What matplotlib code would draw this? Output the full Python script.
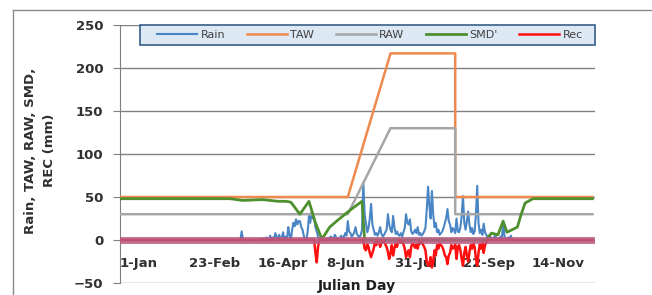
import numpy as np
import matplotlib
matplotlib.use("Agg")
import matplotlib.pyplot as plt
from matplotlib.lines import Line2D
from matplotlib.patches import Rectangle

# day of year (0 = 1-Jan, leap year)
tick_days = [0, 53, 106, 159, 212, 265, 318]
tick_labels = ["1-Jan", "23-Feb", "16-Apr", "8-Jun", "31-Jul", "22-Sep", "14-Nov"]
n_days = 366

# rain (mm): scattered spring showers, then the daily wet-season record
spring_rain_days = [94, 110, 113, 116, 118, 120, 121, 123, 125, 126, 128, 130, 131,
                    133, 134, 135, 136, 137, 138, 139, 140, 141, 142, 145, 146, 147,
                    148, 149, 150, 151, 152, 153, 156]
spring_rain_mm = [10, 2, 3, 5, 3, 8, 4, 6, 3, 9, 4, 15, 6,
                  12, 20, 16, 24, 18, 22, 22, 15, 12, 5, 10, 28, 20,
                  32, 25, 25, 15, 10, 4, 2]
season_start = 160
season_rain_mm = [2, 0, 3, 4, 0, 2, 6, 3, 0, 2, 3, 5, 0, 4, 8, 5, 22, 10, 8, 4,
                  6, 9, 15, 7, 5, 3, 6, 12, 67, 30, 20, 9, 14, 25, 42, 18, 12, 6, 8, 5,
                  9, 15, 7, 4, 6, 9, 12, 30, 18, 12, 9, 28, 15, 7, 10, 6, 5, 8, 4, 9,
                  14, 30, 20, 18, 24, 10, 7, 9, 12, 8, 15, 6, 8, 5, 7, 10, 14, 35, 62, 40,
                  25, 57, 30, 15, 20, 9, 12, 6, 8, 10, 14, 20, 25, 36, 22, 18, 9, 14, 12, 8,
                  25, 10, 9, 15, 28, 51, 20, 12, 22, 33, 18, 9, 14, 7, 10, 30, 63, 20, 8, 12,
                  6, 19, 9, 6, 3, 5, 4, 2, 0, 3, 6]
autumn_rain_days = [292, 294, 296, 297, 300, 302]
autumn_rain_mm = [2, 4, 22, 5, 3, 5]

# total / readily available water (breakpoints)
taw_days = [0, 176, 209, 259, 259, 365]
taw_mm = [50, 50, 217, 217, 50, 50]
raw_days = [0, 176, 209, 259, 259, 365]
raw_mm = [30, 30, 130, 130, 30, 30]

# soil moisture deficit (breakpoints)
smd_days = [0, 85, 95, 110, 122, 128, 132, 139, 146, 151, 156, 162, 169, 178,
            187, 189, 283, 287, 292, 296, 299, 303, 307, 310, 313, 319, 365]
smd_mm = [48, 48, 46, 47, 45, 45, 44, 30, 45, 20, 1, 15, 24, 35,
          45, 0, 0, 8, 6, 22, 9, 12, 15, 30, 43, 48, 48]

# recharge (negative, mm)
early_rec_days = [151, 152, 153]
early_rec_mm = [-15, -26, -8]
rec_start = 189
season_rec_mm = [-10, -12, -5, -8, -15, -20, -15, -10, -3, -6, 0, -2, -8, -3, 0, -2,
                 -5, -8, -14, -22, -15, -6, -18, -10, -4, -8, -2, 0, -3, -1, -5, -10,
                 -20, -15, -12, -20, -8, -4, -6, -9, -5, -10, -3, -4, -2, -5, -8, -12,
                 -25, -30, -28, -20, -32, -25, -12, -18, -6, -10, -4, -6, -8, -12, -18,
                 -20, -28, -18, -15, -6, -10, -9, -5, -22, -8, -6, -12, -22, -30, -15,
                 -8, -18, -25, -14, -6, -10, -4, -8, -22, -30, -15, -5, -10, -3, -15,
                 -6, -3]

days = np.arange(n_days)
rain = np.zeros(n_days)
rain[spring_rain_days] = spring_rain_mm
rain[season_start:season_start + len(season_rain_mm)] = season_rain_mm
rain[autumn_rain_days] = autumn_rain_mm
rec = np.zeros(n_days)
rec[early_rec_days] = early_rec_mm
rec[rec_start:rec_start + len(season_rec_mm)] = season_rec_mm

fig = plt.figure(figsize=(6.52, 2.95), dpi=100)
ax = fig.add_axes([120 / 652, 1 - 283 / 295, 475 / 652, 258 / 295])

ax.plot(days, rain, color="#4A86C5", lw=1.5, label="Rain", zorder=3)
ax.plot(taw_days, taw_mm, color="#EE8A4E", lw=1.8, label="TAW", zorder=4)
ax.plot(raw_days, raw_mm, color="#A6A6A6", lw=1.8, label="RAW", zorder=4)
ax.plot(smd_days, smd_mm, color="#4E8F2E", lw=2.0, label="SMD'", zorder=5)
ax.plot(days, rec, color="#FF1010", lw=1.8, label="Rec", zorder=6)
ax.axhline(0, color="#b85a82", lw=5, alpha=0.85, zorder=7)

ax.set_xlim(0, 367)
ax.set_ylim(-50, 250)
ax.set_yticks(range(-50, 251, 50))
ax.grid(axis="y", color="#808080", lw=1.0, zorder=1)
ax.set_axisbelow(True)

for s in ["top", "right"]:
    ax.spines[s].set_visible(False)
ax.spines["left"].set_color("#808080")
ax.spines["bottom"].set_position(("data", 0))
ax.spines["bottom"].set_visible(False)

# x labels start at their day, as in the original
ax.set_xticks(tick_days)
ax.set_xticklabels(tick_labels)
ax.tick_params(axis="y", length=5, color="#808080", pad=7, labelsize=9.5,
               labelcolor="#303030")
ax.tick_params(axis="x", length=0, pad=12, labelsize=9.5, labelcolor="#303030")
for lab in ax.get_xticklabels():
    lab.set_horizontalalignment("left")
for lab in ax.get_xticklabels() + ax.get_yticklabels():
    lab.set_fontweight("bold")

fig.text(357 / 652, 1 - 286 / 295, "Julian Day", ha="center", va="center",
         fontsize=10, fontweight="bold", color="#202020")

fig.text(40 / 652, 0.49, "Rain, TAW, RAW, SMD,\nREC (mm)", rotation=90,
         ha="center", va="center", fontsize=9.5, fontweight="bold",
         color="#303030", multialignment="center", linespacing=1.5)

# legend box drawn separately, entries spread inside it
ax.add_patch(Rectangle((20 / 475, 1 - 20 / 258), 455 / 475, 20 / 258,
                       transform=ax.transAxes, facecolor="#dde8f5",
                       edgecolor="#385d8a", lw=1.2, zorder=9, clip_on=False))
leg = ax.legend(loc="center", bbox_to_anchor=(35 / 475, 1 - 20 / 258, 430 / 475, 20 / 258),
                mode="expand", ncol=5, fontsize=8, frameon=False,
                handlelength=3.6, borderaxespad=0, borderpad=0.2, handletextpad=0.3)
leg.set_zorder(10)
for t in leg.get_texts():
    t.set_color("#404040")

# chart area border (top and left edges inside the picture)
fig.add_artist(Line2D([13 / 652, 1.0], [1 - 10 / 295, 1 - 10 / 295],
                      transform=fig.transFigure, color="#8a8a8a", lw=1.0))
fig.add_artist(Line2D([13 / 652, 13 / 652], [0, 1 - 10 / 295],
                      transform=fig.transFigure, color="#8a8a8a", lw=1.0))

fig.savefig("out.png", dpi=100)
